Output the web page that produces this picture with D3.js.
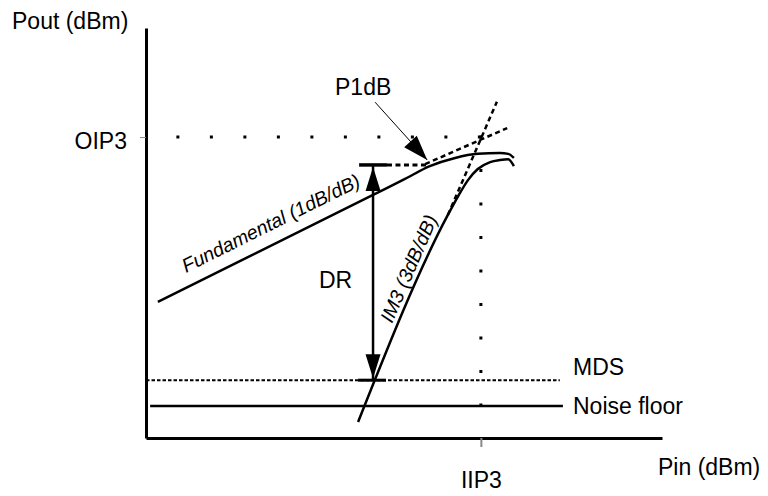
<!DOCTYPE html>
<html>
<head>
<meta charset="utf-8">
<script src="https://cdn.jsdelivr.net/npm/d3@7"></script>
<style>
  body { margin: 0; background: #fff; }
  svg { display: block; font-family: "Liberation Sans", Arial, sans-serif; }
</style>
</head>
<body>
<svg id="chart" width="768" height="496"></svg>
<script>
// curves, in relative units (0-100 on both axes)
const fundamental = [[2.3, 33.2], [44.0, 59.3], [50.2, 63.2], [55.0, 66.3], [59.9, 68.3], [64.3, 69.3], [68.6, 69.5], [70.2, 69.3], [71.3, 68.3]];
const fundamentalExt = [[54.1, 66.8], [70.0, 75.6]];
const im3 = [[41.1, 3.9], [58.5, 54.4], [60.5, 59.0], [62.4, 62.9], [64.3, 65.6], [66.7, 67.3], [68.6, 67.8], [70.2, 68.0], [71.3, 66.3]];
const im3Ext = [[58.5, 54.4], [68.0, 82.0]];

// levels
const oip3 = 73.4;
const iip3 = 64.9;
const p1dbOut = 66.6;
const p1dbIn = 54.3;
const mds = 14.1;
const noiseFloor = 7.8;
const drX = 44.0;

const width = 768, height = 496;
const margin = { top: 28, right: 106, bottom: 58, left: 146 };
const fs = 23;

const svg = d3.select('#chart');

const x = d3.scaleLinear().domain([0, 100]).range([margin.left, width - margin.right]);
const y = d3.scaleLinear().domain([0, 100]).range([height - margin.bottom, margin.top]);

const line = d3.line().x(d => x(d[0])).y(d => y(d[1]));
const curve = d3.line().x(d => x(d[0])).y(d => y(d[1])).curve(d3.curveMonotoneX);

// filled triangle, tip at (tx,ty), pointing away from (fx,fy)
const arrowHead = (fx, fy, tx, ty, len, w) => {
  const a = Math.atan2(ty - fy, tx - fx);
  const bx = tx - len * Math.cos(a), by = ty - len * Math.sin(a);
  const px = Math.sin(a) * w / 2, py = -Math.cos(a) * w / 2;
  svg.append('path')
    .attr('d', `M${tx},${ty}L${bx + px},${by + py}L${bx - px},${by - py}Z`)
    .attr('fill', '#000');
};

// dotted guides to the intercept point
svg.append('line')
  .attr('x1', x(iip3)).attr('y1', y(oip3))
  .attr('x2', x(0)).attr('y2', y(oip3))
  .attr('stroke', '#000').attr('stroke-width', 3)
  .attr('stroke-dasharray', '3,30.5');
svg.append('line')
  .attr('x1', x(iip3)).attr('y1', y(oip3) - 1.5)
  .attr('x2', x(iip3)).attr('y2', y(0))
  .attr('stroke', '#000').attr('stroke-width', 3)
  .attr('stroke-dasharray', '3,30.5');

// axes
const yAxis = d3.axisLeft(y).tickValues([oip3]).tickFormat(() => 'OIP3')
  .tickSize(6).tickSizeOuter(0).tickPadding(13);
const xAxis = d3.axisBottom(x).tickValues([iip3]).tickFormat(() => 'IIP3')
  .tickSize(9).tickSizeOuter(0).tickPadding(25);

const gy = svg.append('g').attr('transform', `translate(${x(0)},0)`).call(yAxis);
const gx = svg.append('g').attr('transform', `translate(0,${y(0)})`).call(xAxis);
[gx, gy].forEach(g => {
  g.select('.domain').attr('stroke', '#000').attr('stroke-width', 3);
  g.selectAll('.tick line').attr('stroke', '#888').attr('stroke-width', 2);
  g.selectAll('.tick text').attr('fill', '#000').attr('font-size', fs)
    .attr('font-family', '"Liberation Sans", Arial, sans-serif');
});
gy.select('.tick line').attr('stroke-width', 1);
gy.select('.tick text').attr('dy', '0.5em');

svg.append('text').attr('x', 12).attr('y', 29).attr('font-size', fs).text('Pout (dBm)');
svg.append('text').attr('x', 658).attr('y', 475).attr('font-size', fs).text('Pin (dBm)');

// MDS and noise floor
svg.append('path').attr('d', line([[0, mds], [80.2, mds]]))
  .attr('stroke', '#000').attr('stroke-width', 2).attr('fill', 'none')
  .attr('stroke-dasharray', '3.5,2');
svg.append('path').attr('d', line([[0.8, noiseFloor], [80.8, noiseFloor]]))
  .attr('stroke', '#000').attr('stroke-width', 2.5).attr('fill', 'none');
svg.append('text').attr('x', 573).attr('y', 375).attr('font-size', fs).text('MDS');
svg.append('text').attr('x', 573).attr('y', 414).attr('font-size', fs).text('Noise floor');

// extrapolated (dashed) lines
[fundamentalExt, im3Ext].forEach(d => {
  svg.append('path').attr('d', line(d))
    .attr('stroke', '#000').attr('stroke-width', 2.5).attr('fill', 'none')
    .attr('stroke-dasharray', '5,3.5');
});
svg.append('path').attr('d', line([[drX + 2.7, p1dbOut], [p1dbIn, p1dbOut]]))
  .attr('stroke', '#000').attr('stroke-width', 3).attr('fill', 'none')
  .attr('stroke-dasharray', '5,3.5');

// measured curves
[fundamental, im3].forEach(d => {
  svg.append('path').attr('d', curve(d))
    .attr('stroke', '#000').attr('stroke-width', 2.5).attr('fill', 'none')
    .attr('stroke-linejoin', 'round');
});

// dynamic range arrow
svg.append('path').attr('d', line([[drX, p1dbOut], [drX, mds]]))
  .attr('stroke', '#000').attr('stroke-width', 2.5);
svg.append('path').attr('d', line([[drX - 2.7, p1dbOut], [drX + 2.7, p1dbOut]]))
  .attr('stroke', '#000').attr('stroke-width', 3.5);
svg.append('path').attr('d', line([[drX - 2.9, mds], [drX + 2.5, mds]]))
  .attr('stroke', '#000').attr('stroke-width', 3);
arrowHead(x(drX), y(mds), x(drX), y(p1dbOut) + 2, 24, 15);
arrowHead(x(drX), y(p1dbOut), x(drX), y(mds) - 2, 24, 15);
svg.append('text').attr('x', 319).attr('y', 288).attr('font-size', fs).text('DR');

// P1dB pointer
const p1from = [x(44.4), y(81.9)], p1to = [x(54.5), y(67.8)];
svg.append('line')
  .attr('x1', p1from[0]).attr('y1', p1from[1])
  .attr('x2', p1to[0]).attr('y2', p1to[1])
  .attr('stroke', '#000').attr('stroke-width', 1);
arrowHead(p1from[0], p1from[1], p1to[0], p1to[1], 25, 17);
svg.append('text').attr('x', 335).attr('y', 95).attr('font-size', fs).text('P1dB');

// slope labels
svg.append('text')
  .attr('transform', 'translate(186,273) rotate(-26.5)')
  .attr('font-size', 19.5).attr('font-style', 'italic')
  .text('Fundamental (1dB/dB)');
svg.append('text')
  .attr('transform', 'translate(392,324) rotate(-66.5)')
  .attr('font-size', 19.5).attr('font-style', 'italic')
  .text('IM3 (3dB/dB)');
</script>
</body>
</html>
